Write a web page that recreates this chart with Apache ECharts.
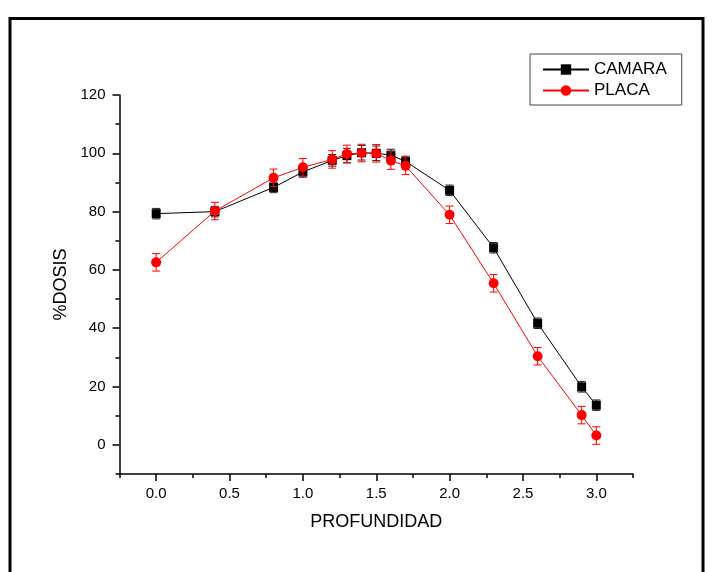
<!DOCTYPE html>
<html>
<head>
<meta charset="utf-8">
<script src="https://cdn.jsdelivr.net/npm/echarts@6/dist/echarts.min.js"></script>
<style>
html,body{margin:0;padding:0;background:#fff;}
#chart{width:714px;height:572px;}
</style>
</head>
<body>
<div id="chart"></div>
<script>
// Data
var depth = [0, 0.4, 0.8, 1.0, 1.2, 1.3, 1.4, 1.5, 1.6, 1.7, 2.0, 2.3, 2.6, 2.9, 3.0];
var camara = [79.3, 80.0, 88.3, 93.6, 97.6, 99.2, 100.2, 100.0, 99.4, 97.2, 87.3, 67.6, 41.7, 19.9, 13.6];
var camaraErr = [1.8, 1.8, 1.8, 1.8, 2.0, 2.5, 2.5, 2.5, 2.0, 1.8, 1.8, 1.8, 1.8, 1.8, 1.8];
var placa = [62.6, 80.2, 91.6, 95.2, 97.9, 99.8, 100.1, 100.0, 97.5, 95.7, 78.9, 55.4, 30.4, 10.2, 3.2];
var placaErr = [3.0, 3.0, 3.0, 3.0, 3.0, 3.0, 3.0, 3.0, 3.0, 3.0, 3.0, 3.0, 3.0, 3.0, 3.0];
var seriesNames = ['CAMARA', 'PLACA'];
var xMajor = [0, 0.5, 1.0, 1.5, 2.0, 2.5, 3.0];
var yMajor = [0, 20, 40, 60, 80, 100, 120];

var FONT = '"Liberation Sans", Arial, sans-serif';

function pairs(xs, ys) { return xs.map(function (x, i) { return [x, ys[i]]; }); }
function errData(xs, ys, es) { return xs.map(function (x, i) { return [x, ys[i] - es[i], ys[i] + es[i]]; }); }

function errRender(color) {
  return function (params, api) {
    var top = api.coord([api.value(0), api.value(2)]);
    var bot = api.coord([api.value(0), api.value(1)]);
    var hw = 4;
    var st = { stroke: color, lineWidth: 1 };
    return {
      type: 'group',
      children: [
        { type: 'line', shape: { x1: top[0], y1: top[1], x2: bot[0], y2: bot[1] }, style: st },
        { type: 'line', shape: { x1: top[0] - hw, y1: top[1], x2: top[0] + hw, y2: top[1] }, style: st },
        { type: 'line', shape: { x1: bot[0] - hw, y1: bot[1], x2: bot[0] + hw, y2: bot[1] }, style: st }
      ]
    };
  };
}

var chart = echarts.init(document.getElementById('chart'), null, { renderer: 'canvas' });

var axisLineStyle = { color: '#000', width: 1.5 };

var option = {
  animation: false,
  backgroundColor: '#fff',
  grid: { left: 119.5, right: 81, top: 95, bottom: 98, containLabel: false },
  graphic: [
    { type: 'rect', shape: { x: 10, y: 18.5, width: 693, height: 600 }, style: { fill: 'none', stroke: '#000', lineWidth: 3 }, silent: true, z: 100 }
  ],
  legend: {
    data: seriesNames,
    orient: 'vertical',
    left: 530,
    top: 54,
    padding: [7, 15, 6, 12],
    itemWidth: 46,
    itemHeight: 13,
    itemGap: 4,
    borderColor: '#444',
    borderWidth: 1,
    textStyle: { fontSize: 17, fontFamily: FONT, color: '#000' }
  },
  xAxis: [
    {
      type: 'value', min: -0.25, max: 3.25, interval: 0.25,
      name: 'PROFUNDIDAD', nameLocation: 'middle', nameGap: 39,
      nameTextStyle: { fontSize: 18, fontFamily: FONT, color: '#000' },
      axisLine: { show: true, onZero: false, lineStyle: axisLineStyle },
      axisTick: { show: true, inside: false, length: 4, lineStyle: { color: '#000', width: 1.5 } },
      axisLabel: {
        show: true, margin: 12, fontSize: 15, fontFamily: FONT, color: '#000',
        customValues: xMajor,
        formatter: function (v) { return Math.abs(v * 2 - Math.round(v * 2)) < 1e-6 ? v.toFixed(1) : ''; }
      },
      splitLine: { show: false }
    },
    {
      type: 'value', min: -0.25, max: 3.25, position: 'bottom', offset: 0,
      axisLine: { show: false, onZero: false },
      axisTick: { show: true, inside: false, length: 7, customValues: xMajor, lineStyle: { color: '#000', width: 1.5 } },
      axisLabel: { show: false },
      splitLine: { show: false }
    }
  ],
  yAxis: [
    {
      type: 'value', min: -10, max: 120, interval: 10,
      name: '%DOSIS', nameLocation: 'middle', nameGap: 42,
      nameTextStyle: { fontSize: 18, fontFamily: FONT, color: '#000' },
      axisLine: { show: true, onZero: false, lineStyle: axisLineStyle },
      axisTick: { show: true, inside: false, length: 4, lineStyle: { color: '#000', width: 1.5 } },
      axisLabel: {
        show: true, margin: 14, fontSize: 15, fontFamily: FONT, color: '#000',
        customValues: yMajor,
        formatter: function (v) { return (v >= 0 && v % 20 === 0) ? String(v) : ''; }
      },
      splitLine: { show: false }
    },
    {
      type: 'value', min: -10, max: 120, position: 'left', offset: 0,
      axisLine: { show: false, onZero: false },
      axisTick: { show: true, inside: false, length: 7, customValues: yMajor, lineStyle: { color: '#000', width: 1.5 } },
      axisLabel: { show: false },
      splitLine: { show: false }
    }
  ],
  series: [
    {
      type: 'custom', name: 'CAMARA_err', renderItem: errRender('#222'),
      data: errData(depth, camara, camaraErr), encode: { x: 0, y: [1, 2] }, z: 2, silent: true
    },
    {
      type: 'line', name: 'CAMARA', data: pairs(depth, camara),
      symbol: 'rect', symbolSize: 9, showAllSymbol: true,
      lineStyle: { color: '#000', width: 1 }, itemStyle: { color: '#000' }, z: 3
    },
    {
      type: 'custom', name: 'PLACA_err', renderItem: errRender('#ff0000'),
      data: errData(depth, placa, placaErr), encode: { x: 0, y: [1, 2] }, z: 4, silent: true
    },
    {
      type: 'line', name: 'PLACA', data: pairs(depth, placa),
      symbol: 'circle', symbolSize: 10, showAllSymbol: true,
      lineStyle: { color: '#ff0000', width: 1 }, itemStyle: { color: '#ff0000' }, z: 5
    }
  ]
};
chart.setOption(option);
</script>
</body>
</html>
